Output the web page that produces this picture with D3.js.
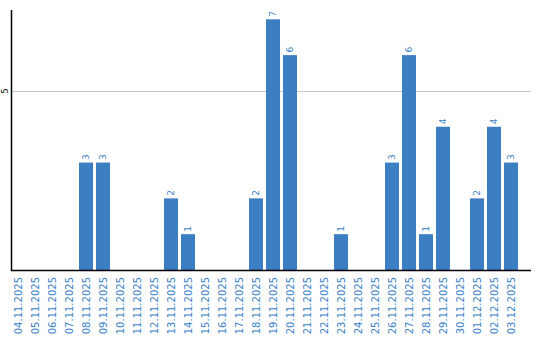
<!DOCTYPE html>
<html><head><meta charset="utf-8">
<script src="https://cdn.jsdelivr.net/npm/d3@7"></script>
<style>body{margin:0;background:#fff}svg{display:block}</style>
</head><body>
<script>
const categories = ["04.11.2025","05.11.2025","06.11.2025","07.11.2025","08.11.2025","09.11.2025","10.11.2025","11.11.2025","12.11.2025","13.11.2025","14.11.2025","15.11.2025","16.11.2025","17.11.2025","18.11.2025","19.11.2025","20.11.2025","21.11.2025","22.11.2025","23.11.2025","24.11.2025","25.11.2025","26.11.2025","27.11.2025","28.11.2025","29.11.2025","30.11.2025","01.12.2025","02.12.2025","03.12.2025"];
const values = [0,0,0,0,3,3,0,0,0,2,1,0,0,0,2,7,6,0,0,1,0,0,3,6,1,4,0,2,4,3];
const yTicks = [5];
const yMax = 7.26;

const W = 540, H = 340;
const svg = d3.select("body").append("svg").attr("width", W).attr("height", H);
const mLeft = 11, mTop = 10, mBottom = 270, mRight = 531;
const barColor = "#3b7ec2";
const labelColor = "#3a7fc6";

const x = d3.scaleBand().domain(categories).range([mLeft, 518]).paddingInner(3/17).paddingOuter(0);
const y = d3.scaleLinear().domain([0, yMax]).range([mBottom, mTop]);

// gridlines
svg.selectAll("line.grid").data(yTicks).enter().append("line")
  .attr("x1", mLeft).attr("x2", mRight)
  .attr("y1", d => Math.round(y(d)) + 0.5).attr("y2", d => Math.round(y(d)) + 0.5)
  .attr("stroke", "#c8c8c8").attr("stroke-width", 1);

// y tick labels
svg.selectAll("text.ytick").data(yTicks).enter().append("text")
  .attr("transform", d => `translate(8,${y(d)}) rotate(-90)`)
  .attr("text-anchor", "middle")
  .attr("font-family", "DejaVu Sans, sans-serif").attr("font-size", 8)
  .attr("fill", "#000").text(d => d);

// bars
const data = categories.map((c, i) => ({c, v: values[i]}));
svg.selectAll("rect.bar").data(data.filter(d => d.v > 0)).enter().append("rect")
  .attr("x", d => x(d.c)).attr("width", x.bandwidth())
  .attr("y", d => y(d.v)).attr("height", d => y(0) - y(d.v))
  .attr("fill", barColor);

// value labels
svg.selectAll("text.val").data(data.filter(d => d.v > 0)).enter().append("text")
  .attr("transform", d => `translate(${x(d.c) + x.bandwidth()/2 + 3.2},${y(d.v) - 2.5}) rotate(-90)`)
  .attr("text-anchor", "start")
  .attr("font-family", "DejaVu Sans, sans-serif").attr("font-size", 9)
  .attr("fill", labelColor).text(d => d.v);

// axes lines
svg.append("line").attr("x1", mLeft + 0.5).attr("x2", mLeft + 0.5).attr("y1", mTop).attr("y2", mBottom + 1)
  .attr("stroke", "#000").attr("stroke-width", 1.5);
svg.append("line").attr("x1", mLeft).attr("x2", mRight).attr("y1", mBottom + 0.5).attr("y2", mBottom + 0.5)
  .attr("stroke", "#000").attr("stroke-width", 1.5);

// x labels
svg.selectAll("text.xl").data(categories).enter().append("text")
  .attr("transform", d => `translate(${x(d) + x.bandwidth()/2 + 3.5},277) rotate(-90)`)
  .attr("text-anchor", "end")
  .attr("font-family", "DejaVu Sans, sans-serif").attr("font-size", 10)
  .attr("fill", labelColor).text(d => d);
</script>
</body></html>
